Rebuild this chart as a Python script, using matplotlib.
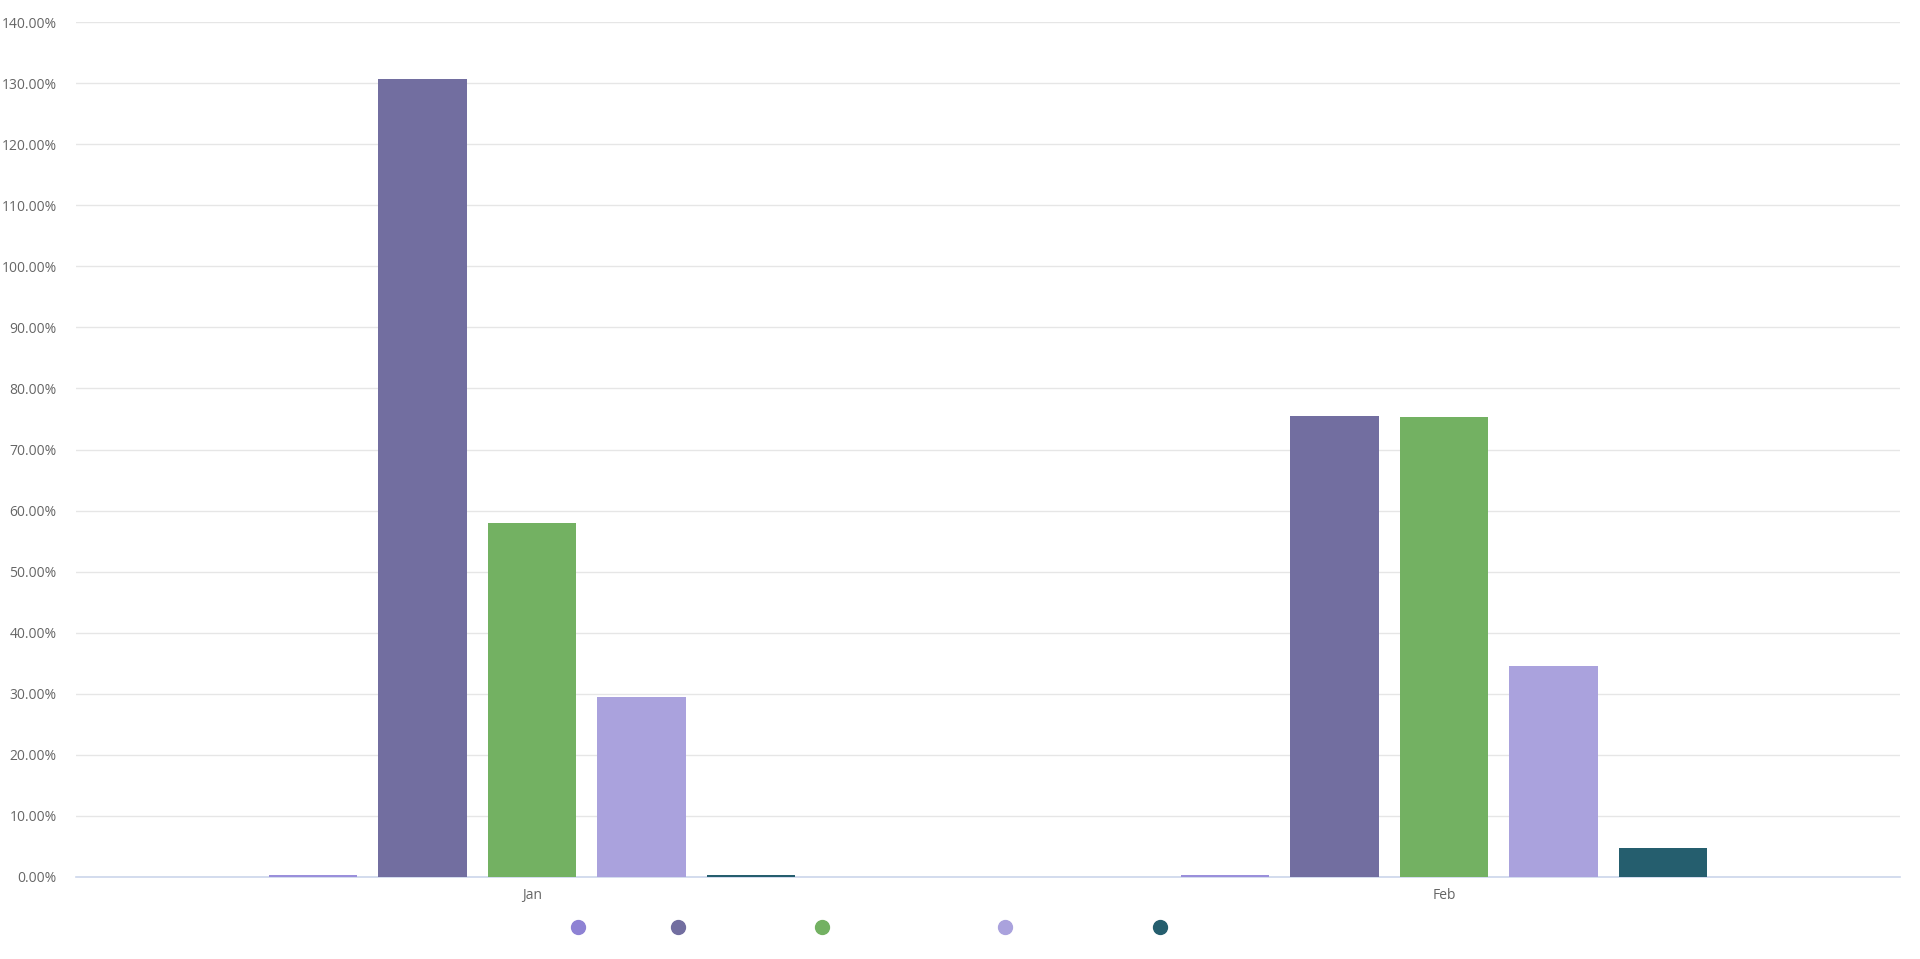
import numpy as np
import matplotlib.pyplot as plt
from matplotlib.ticker import FuncFormatter, MultipleLocator

# ------------------------------------------------------------
# DATA (percent values)
# ------------------------------------------------------------
categories = ["Jan", "Feb"]
series_names = ["", "", "", "", ""]
series_colors = ["#9a8fdb", "#726ea0", "#73b162", "#aaa2dd", "#255e6e"]
legend_colors = ["#8e82d4", "#726ea0", "#73b162", "#aaa2dd", "#255e6e"]

s1 = [0.4, 0.4]
s2 = [130.7, 75.5]
s3 = [57.9, 75.3]
s4 = [29.5, 34.5]
s5 = [0.4, 4.8]
series_values = [s1, s2, s3, s4, s5]

# ------------------------------------------------------------
# LAYOUT
# ------------------------------------------------------------
BAR_WIDTH = 0.097
BAR_PITCH = 0.12
GRID_COLOR = "#e6e6e6"
LABEL_COLOR = "#666666"
LEGEND_X = [578, 678, 822, 1005, 1160]   # pixel positions of legend dots
LEGEND_Y = 927

plt.rcParams["font.family"] = ["Open Sans", "DejaVu Sans"]

fig = plt.figure(figsize=(19.2, 9.59), dpi=100)
ax = fig.add_axes([76 / 1920, 1 - 877 / 959, (1900 - 76) / 1920, (877 - 22) / 959])

x = np.arange(len(categories))
n = len(series_values)
for i, (vals, col) in enumerate(zip(series_values, series_colors)):
    offs = (i - (n - 1) / 2) * BAR_PITCH
    ax.bar(x + offs, vals, width=BAR_WIDTH, color=col,
           linewidth=0, zorder=3, label=series_names[i])

ax.set_xlim(-0.5, len(categories) - 0.5)
ax.set_ylim(0, 140)
ax.yaxis.set_major_locator(MultipleLocator(10))
ax.yaxis.set_major_formatter(FuncFormatter(lambda v, p: f"{v:.2f}%"))
ax.set_xticks(x)
ax.set_xticklabels(categories)

ax.grid(axis="y", color=GRID_COLOR, linewidth=1, zorder=0)
for side in ["top", "right", "left"]:
    ax.spines[side].set_visible(False)
ax.spines["bottom"].set_color("#ccd6eb")
ax.spines["bottom"].set_linewidth(1.2)
ax.spines["bottom"].set_zorder(2)

ax.tick_params(axis="y", length=0, labelsize=10, labelcolor=LABEL_COLOR, pad=14)
ax.tick_params(axis="x", length=0, labelsize=10, labelcolor=LABEL_COLOR, pad=8)

# legend dots (series names are blank in the reference)
for px, col in zip(LEGEND_X, legend_colors):
    fig.add_artist(plt.Line2D([px / 1920], [1 - LEGEND_Y / 959], marker="o",
                              markersize=10, color=col, linestyle="none",
                              transform=fig.transFigure))

fig.savefig("out.png", dpi=100, facecolor="white")
